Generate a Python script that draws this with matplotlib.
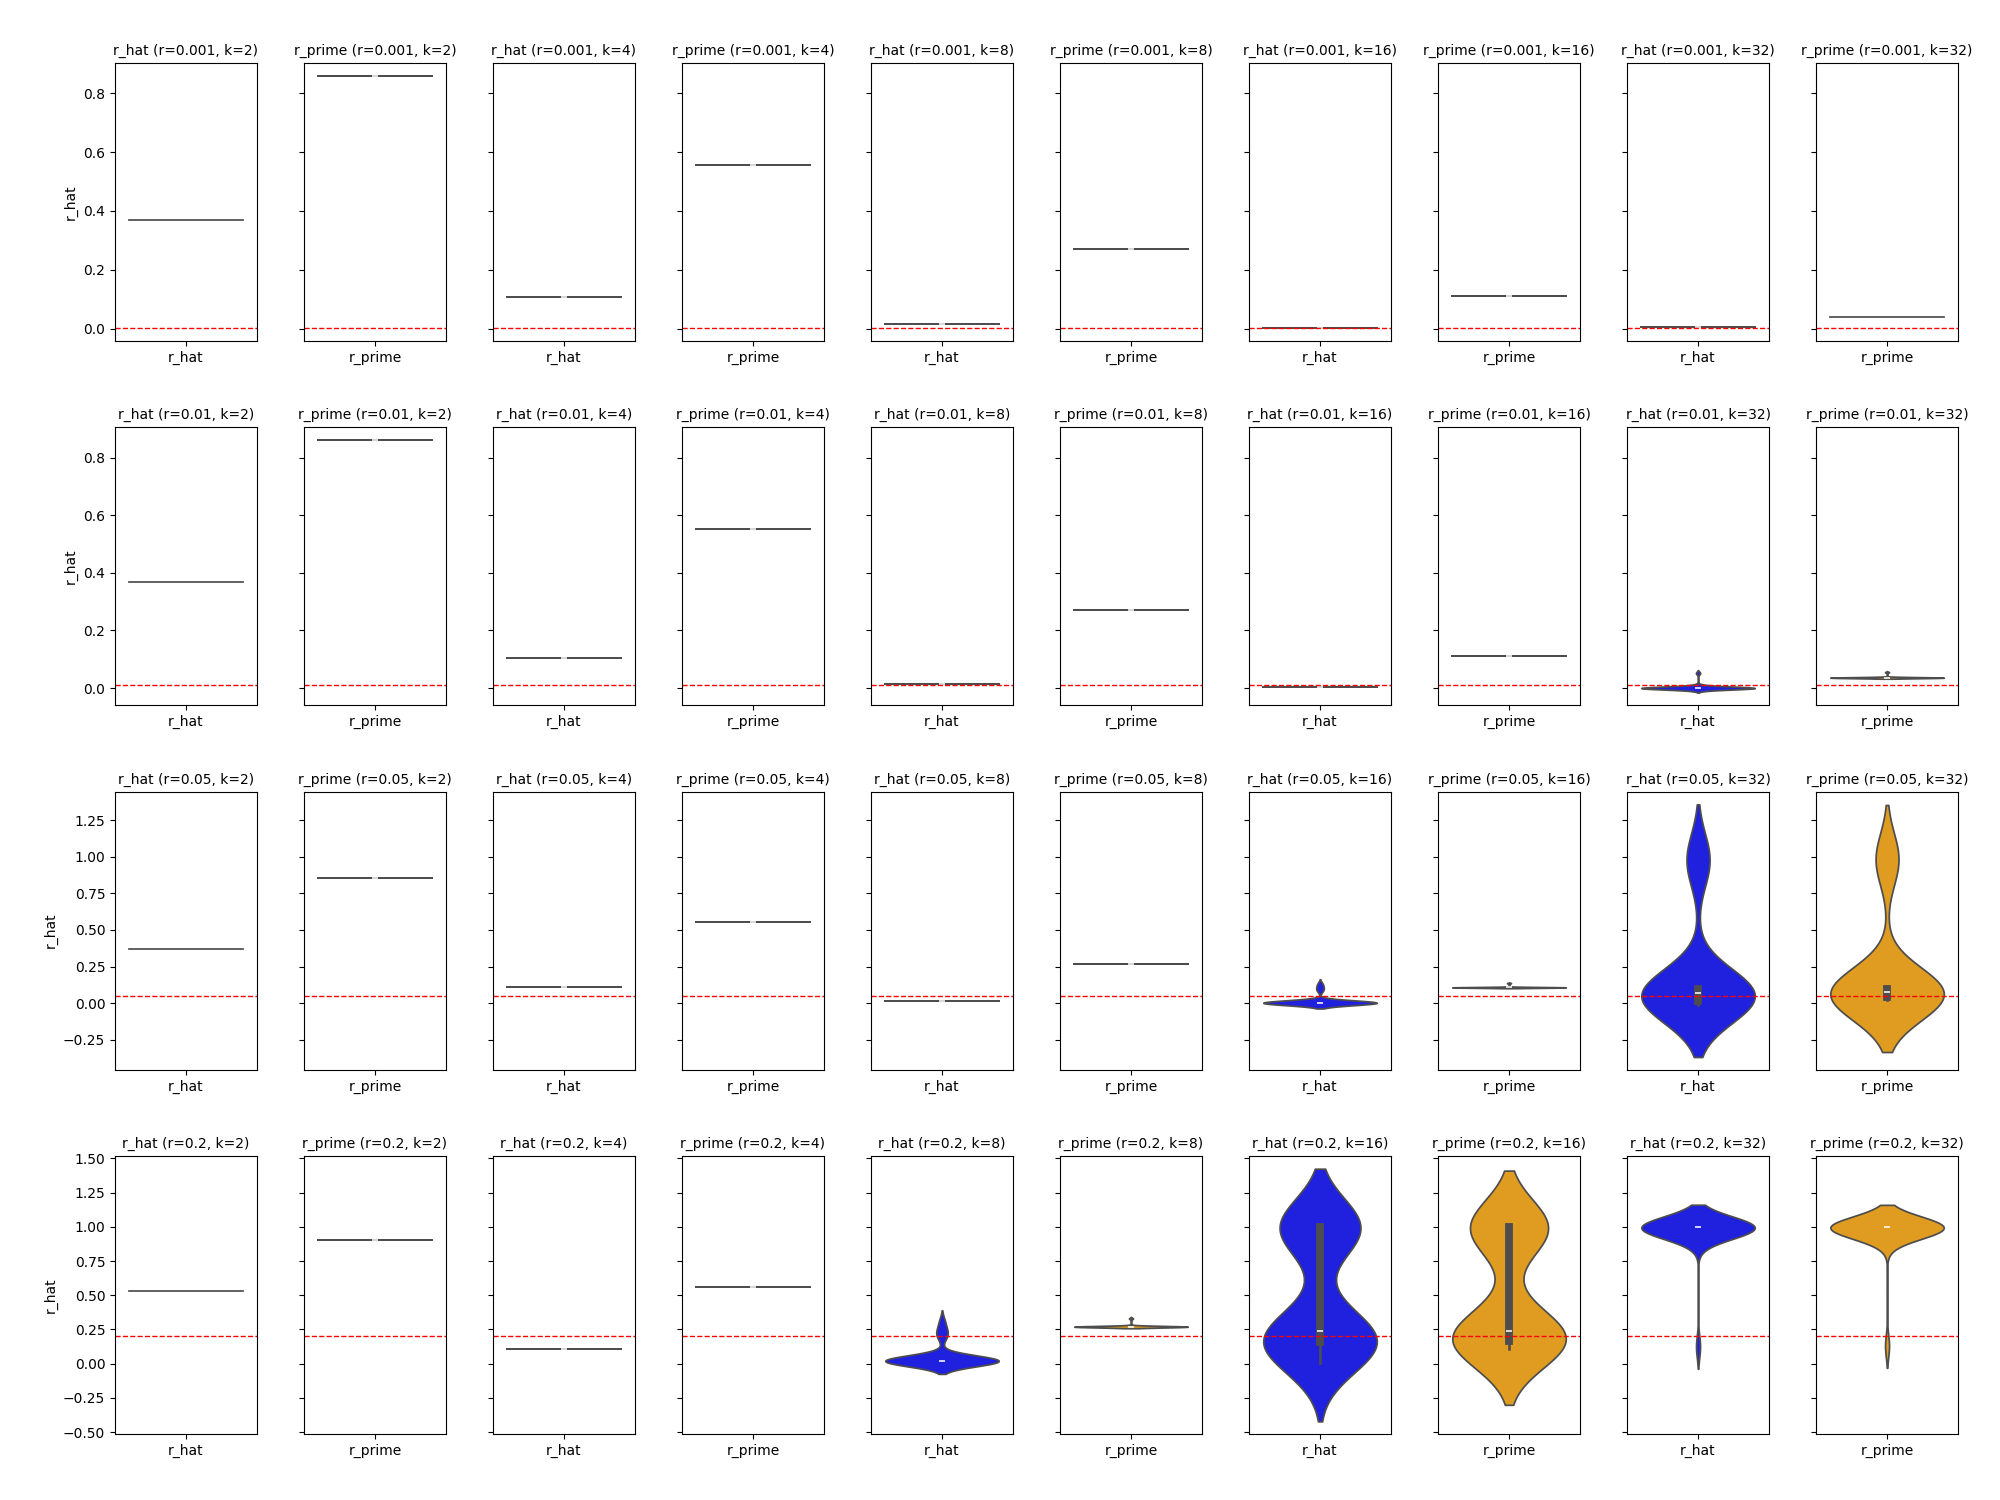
import matplotlib
matplotlib.use("Agg")
import matplotlib.pyplot as plt
import seaborn as sns

r_values = [0.001, 0.01, 0.05, 0.2]
k_values = [2, 4, 8, 16, 32]
estimators = ["r_hat", "r_prime"]
palette = {"r_hat": "blue", "r_prime": "orange"}
n_trials = 30
# repeated-value cells carry floating-point rounding noise in one trial
rounding_noise = 1e-12

# cells where every trial gave (almost) the same value
# columns: r_hat k=2, r_prime k=2, r_hat k=4, r_prime k=4, ..., r_prime k=32
const_r0001 = [None, 0.860, 0.107, 0.555, 0.017, 0.271, 0.003, 0.112, 0.004, None]
const_r001 = [None, 0.861, 0.105, 0.551, 0.014, 0.271, 0.002, 0.111, None, None]
const_r005 = [None, 0.857, 0.107, 0.557, 0.016, 0.269, None, None, None, None]
const_r02 = [None, 0.903, 0.110, 0.563, None, None, None, None, None, None]
const_rows = [const_r0001, const_r001, const_r005, const_r02]

# cells whose trials are bit-identical (no rounding noise at all)
r0001_rhat_k2 = [0.370, 0.370]
r001_rhat_k2 = [0.367, 0.367]
r005_rhat_k2 = [0.368, 0.368]
r02_rhat_k2 = [0.530, 0.530]
r0001_rprime_k32 = [0.039, 0.039]

# cells with spread
r001_rhat_k32 = [-0.006, -0.003, 0.0, 0.0, 0.0, 0.0, 0.0, 0.0, 0.0, 0.0,
                 0.0, 0.0, 0.0, 0.0, 0.0, 0.0, 0.0, 0.0, 0.0, 0.0,
                 0.0, 0.0, 0.0, 0.0, 0.0, 0.0, 0.003, 0.006, 0.010, 0.052]
r001_rprime_k32 = [0.036, 0.036, 0.036, 0.036, 0.036, 0.036, 0.036, 0.036, 0.036, 0.036,
                   0.036, 0.036, 0.036, 0.036, 0.036, 0.036, 0.036, 0.036, 0.036, 0.036,
                   0.036, 0.036, 0.036, 0.036, 0.036, 0.036, 0.036, 0.036, 0.036, 0.055]
r005_rhat_k16 = [-0.004, 0.002, 0.002, 0.002, 0.002, 0.002, 0.002, 0.002, 0.002, 0.002,
                 0.002, 0.002, 0.002, 0.002, 0.002, 0.002, 0.002, 0.002, 0.002, 0.002,
                 0.002, 0.002, 0.002, 0.002, 0.002, 0.002, 0.010, 0.085, 0.105, 0.130]
r005_rprime_k16 = [0.107, 0.107, 0.107, 0.107, 0.107, 0.107, 0.107, 0.107, 0.107, 0.107,
                   0.107, 0.107, 0.107, 0.107, 0.107, 0.107, 0.107, 0.107, 0.107, 0.107,
                   0.107, 0.107, 0.107, 0.107, 0.107, 0.107, 0.107, 0.107, 0.107, 0.136]
r005_rhat_k32 = [-0.010, -0.005, 0.000, 0.004, 0.008, 0.011, 0.014, 0.016, 0.018, 0.025,
                 0.032, 0.040, 0.048, 0.055, 0.062, 0.070, 0.076, 0.082, 0.087, 0.091,
                 0.094, 0.097, 0.099, 0.102, 0.106, 0.950, 0.970, 0.980, 0.990, 1.000]
r005_rprime_k32 = [0.020, 0.024, 0.027, 0.030, 0.032, 0.034, 0.036, 0.038, 0.040, 0.045,
                   0.050, 0.056, 0.062, 0.068, 0.073, 0.077, 0.081, 0.085, 0.089, 0.092,
                   0.095, 0.097, 0.099, 0.102, 0.105, 0.960, 0.975, 0.985, 0.995, 1.000]
r02_rhat_k8 = [0.005, 0.012, 0.020, 0.020, 0.020, 0.020, 0.020, 0.020, 0.020, 0.020,
               0.020, 0.020, 0.020, 0.020, 0.020, 0.020, 0.020, 0.020, 0.020, 0.020,
               0.020, 0.020, 0.020, 0.020, 0.030, 0.045, 0.190, 0.220, 0.250, 0.310]
r02_rprime_k8 = [0.270, 0.270, 0.270, 0.270, 0.270, 0.270, 0.270, 0.270, 0.270, 0.270,
                 0.270, 0.270, 0.270, 0.270, 0.270, 0.270, 0.270, 0.270, 0.270, 0.270,
                 0.270, 0.270, 0.270, 0.270, 0.270, 0.270, 0.270, 0.270, 0.270, 0.330]
r02_rhat_k16 = [0.003, 0.030, 0.060, 0.090, 0.110, 0.130, 0.145, 0.155, 0.163, 0.172,
                0.180, 0.190, 0.200, 0.215, 0.230, 0.242, 0.270, 0.320, 0.955, 0.975,
                0.990, 1.000, 1.000, 1.000, 1.000, 1.000, 1.000, 1.000, 1.000, 1.000]
r02_rprime_k16 = [0.110, 0.118, 0.125, 0.132, 0.140, 0.148, 0.155, 0.162, 0.168, 0.175,
                  0.185, 0.195, 0.205, 0.218, 0.232, 0.244, 0.270, 0.310, 0.955, 0.970,
                  0.985, 0.995, 1.000, 1.000, 1.000, 1.000, 1.000, 1.000, 1.000, 1.000]
r02_rhat_k32 = [0.125, 0.930, 0.950, 0.965, 0.975, 0.985, 0.995, 1.000, 1.000, 1.000,
                1.000, 1.000, 1.000, 1.000, 1.000, 1.000, 1.000, 1.000, 1.000, 1.000,
                1.000, 1.000, 1.000, 1.000, 1.000, 1.000, 1.000, 1.000, 1.000, 1.000]
r02_rprime_k32 = [0.130, 0.930, 0.950, 0.965, 0.975, 0.985, 0.995, 1.000, 1.000, 1.000,
                  1.000, 1.000, 1.000, 1.000, 1.000, 1.000, 1.000, 1.000, 1.000, 1.000,
                  1.000, 1.000, 1.000, 1.000, 1.000, 1.000, 1.000, 1.000, 1.000, 1.000]

cells = {
    (0, 0): r0001_rhat_k2, (1, 0): r001_rhat_k2, (2, 0): r005_rhat_k2, (3, 0): r02_rhat_k2,
    (0, 9): r0001_rprime_k32,
    (1, 8): r001_rhat_k32, (1, 9): r001_rprime_k32,
    (2, 6): r005_rhat_k16, (2, 7): r005_rprime_k16,
    (2, 8): r005_rhat_k32, (2, 9): r005_rprime_k32,
    (3, 4): r02_rhat_k8, (3, 5): r02_rprime_k8,
    (3, 6): r02_rhat_k16, (3, 7): r02_rprime_k16,
    (3, 8): r02_rhat_k32, (3, 9): r02_rprime_k32,
}

fig, axes = plt.subplots(4, 10, figsize=(20, 15), dpi=100, sharey="row")
fig.subplots_adjust(left=0.0575, right=0.979, top=0.958, bottom=0.044,
                    wspace=0.332, hspace=0.311)

for i, r in enumerate(r_values):
    for j in range(10):
        k = k_values[j // 2]
        est = estimators[j % 2]
        ax = axes[i, j]
        if (i, j) in cells:
            vals = cells[(i, j)]
        else:
            v = const_rows[i][j]
            vals = [v] * (n_trials - 1) + [v + rounding_noise]
        sns.violinplot(x=[est] * len(vals), y=vals, color=palette[est], ax=ax)
        ax.axhline(r, color="red", linestyle="--", linewidth=1)
        ax.set_title(f"{est} (r={r}, k={k})", fontsize=10)
        ax.set_xlabel("")
        ax.set_ylabel("r_hat" if j == 0 else "")

fig.savefig("out.png", dpi=100)
